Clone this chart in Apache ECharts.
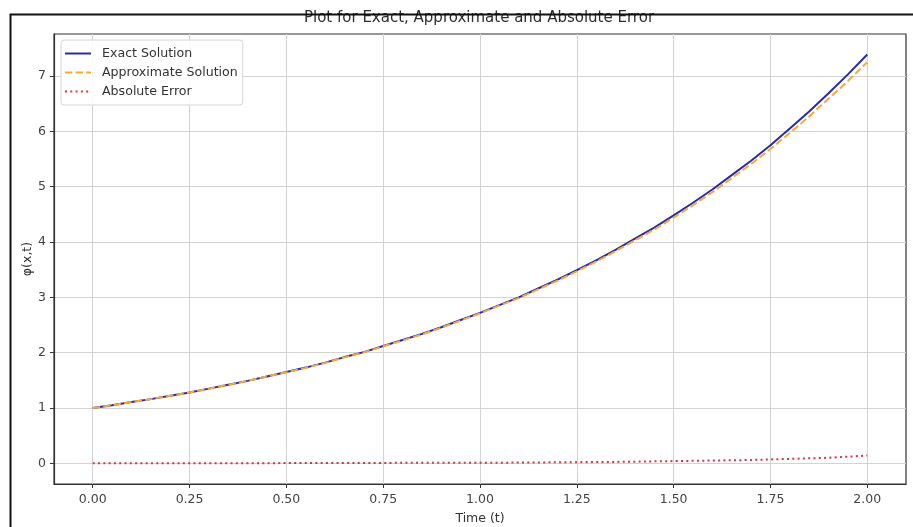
<!DOCTYPE html>
<html>
<head>
<meta charset="utf-8">
<script src="https://cdn.jsdelivr.net/npm/echarts@6/dist/echarts.min.js"></script>
<style>
  html, body { margin: 0; padding: 0; background: #fff; }
  #chart { width: 913px; height: 527px; }
</style>
</head>
<body>
<div id="chart"></div>
<script>
// Time samples t
const timeValues = [
  0.00, 0.05, 0.10, 0.15, 0.20, 0.25, 0.30, 0.35, 0.40, 0.45,
  0.50, 0.55, 0.60, 0.65, 0.70, 0.75, 0.80, 0.85, 0.90, 0.95,
  1.00, 1.05, 1.10, 1.15, 1.20, 1.25, 1.30, 1.35, 1.40, 1.45,
  1.50, 1.55, 1.60, 1.65, 1.70, 1.75, 1.80, 1.85, 1.90, 1.95,
  2.00
];

// Exact solution φ(x,t)
const exactValues = [
  1.00, 1.05, 1.11, 1.16, 1.22, 1.28, 1.35, 1.42, 1.49, 1.57,
  1.65, 1.73, 1.82, 1.92, 2.01, 2.12, 2.23, 2.34, 2.46, 2.59,
  2.72, 2.86, 3.00, 3.16, 3.32, 3.49, 3.67, 3.86, 4.06, 4.26,
  4.48, 4.71, 4.95, 5.21, 5.47, 5.75, 6.05, 6.36, 6.69, 7.03,
  7.39
];

// Approximate solution
const approxValues = [
  1.00, 1.05, 1.11, 1.16, 1.22, 1.28, 1.35, 1.42, 1.49, 1.57,
  1.645, 1.725, 1.815, 1.915, 2.005, 2.115, 2.22, 2.33, 2.45, 2.58,
  2.71, 2.85, 2.985, 3.145, 3.30, 3.47, 3.645, 3.835, 4.03, 4.225,
  4.44, 4.665, 4.90, 5.155, 5.41, 5.68, 5.97, 6.27, 6.59, 6.91,
  7.25
];

// Absolute error
const errorValues = [
  0.000, 0.000, 0.000, 0.000, 0.000, 0.000, 0.000, 0.000, 0.000, 0.000,
  0.005, 0.005, 0.005, 0.005, 0.005, 0.005, 0.010, 0.010, 0.010, 0.010,
  0.010, 0.010, 0.015, 0.015, 0.020, 0.020, 0.025, 0.025, 0.030, 0.035,
  0.040, 0.045, 0.050, 0.055, 0.060, 0.070, 0.080, 0.090, 0.100, 0.120,
  0.140
];

// Axis tick values
const xTicks = [0, 0.25, 0.5, 0.75, 1.0, 1.25, 1.5, 1.75, 2.0];
const yTicks = [0, 1, 2, 3, 4, 5, 6, 7];

const pairs = (vals) => timeValues.map((t, i) => [t, vals[i]]);

const FONT = 'DejaVu Sans';
const chart = echarts.init(document.getElementById('chart'), null, { renderer: 'canvas' });

chart.setOption({
  backgroundColor: '#ffffff',
  animation: false,
  textStyle: { fontFamily: FONT },
  title: {
    text: 'Plot for Exact, Approximate and Absolute Error',
    left: 479,
    textAlign: 'center',
    top: 11,
    padding: 0,
    textStyle: { fontFamily: FONT, fontSize: 15, fontWeight: 'normal', color: '#2e2e2e' }
  },
  grid: {
    left: 54, right: 7, top: 34, bottom: 43,
    outerBoundsMode: 'none',
    show: true, borderColor: '#333', borderWidth: 1.2, backgroundColor: 'transparent'
  },
  legend: {
    left: 61,
    top: 40,
    orient: 'vertical',
    itemWidth: 26,
    itemHeight: 12,
    itemGap: 6,
    padding: [7, 5, 7, 3],
    backgroundColor: 'rgba(255,255,255,0.85)',
    borderColor: '#d6d6d6',
    borderWidth: 1,
    borderRadius: 3,
    itemStyle: { opacity: 0 },
    textStyle: { fontFamily: FONT, fontSize: 12.6, color: '#333', padding: [0, 0, 0, 6] },
    data: ['Exact Solution', 'Approximate Solution', 'Absolute Error']
  },
  xAxis: {
    type: 'value',
    min: -0.1,
    max: 2.1,
    name: 'Time (t)',
    nameLocation: 'middle',
    nameGap: 28,
    nameMoveOverlap: false,
    nameTextStyle: { fontFamily: FONT, fontSize: 12.5, color: '#333' },
    axisLine: { show: true, onZero: false, lineStyle: { color: '#333', width: 1.2 } },
    axisTick: { show: true, length: 4, lineStyle: { color: '#333' }, customValues: xTicks },
    axisLabel: {
      fontFamily: FONT, fontSize: 12.5, color: '#444', margin: 9,
      customValues: xTicks,
      formatter: (v) => v.toFixed(2)
    },
    splitLine: { show: true, lineStyle: { color: '#d3d3d3', width: 1 } }
  },
  yAxis: {
    type: 'value',
    min: -0.374,
    max: 7.76,
    name: 'φ(x,t)',
    nameLocation: 'middle',
    nameGap: 20,
    nameRotate: 90,
    nameMoveOverlap: false,
    nameTextStyle: { fontFamily: FONT, fontSize: 12.5, color: '#333' },
    axisLine: { show: true, onZero: false, lineStyle: { color: '#333', width: 1.2 } },
    axisTick: { show: true, length: 4, lineStyle: { color: '#333' }, customValues: yTicks },
    axisLabel: { fontFamily: FONT, fontSize: 12.5, color: '#444', margin: 8, customValues: yTicks },
    splitLine: { show: true, lineStyle: { color: '#d3d3d3', width: 1 } }
  },
  series: [
    {
      name: 'Exact Solution',
      type: 'line',
      data: pairs(exactValues),
      symbol: 'none',
      lineStyle: { color: '#2b2ba8', width: 2 },
      itemStyle: { color: '#2b2ba8' },
      z: 2
    },
    {
      name: 'Approximate Solution',
      type: 'line',
      data: pairs(approxValues),
      symbol: 'none',
      lineStyle: { color: '#f5a93a', width: 2, type: [7.4, 3.2] },
      itemStyle: { color: '#f5a93a' },
      z: 3
    },
    {
      name: 'Absolute Error',
      type: 'line',
      data: pairs(errorValues),
      symbol: 'none',
      lineStyle: { color: '#d9333f', width: 2, type: [2, 3.3] },
      itemStyle: { color: '#d9333f' },
      z: 4
    }
  ],
  graphic: [
    {
      type: 'rect',
      left: 8,
      top: 12,
      z: 100,
      silent: true,
      shape: { width: 1000, height: 1000 },
      style: { fill: 'none', stroke: '#111', lineWidth: 2 }
    }
  ]
});
</script>
</body>
</html>
